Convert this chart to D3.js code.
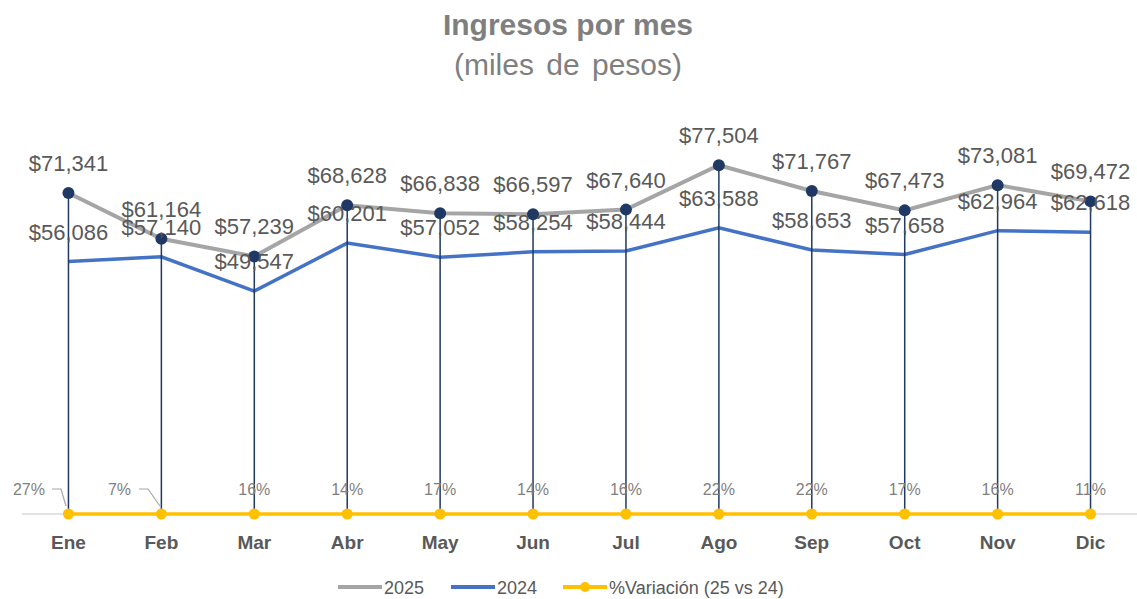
<!doctype html>
<html lang="es">
<head>
<meta charset="utf-8">
<title>Ingresos por mes</title>
<script src="https://cdn.jsdelivr.net/npm/d3@7"></script>
<style>
  body { margin: 0; background: #fff; }
  svg { font-family: "Liberation Sans", Arial, sans-serif; }
</style>
</head>
<body>
<svg></svg>
<script>
  var months = ["Ene", "Feb", "Mar", "Abr", "May", "Jun", "Jul", "Ago", "Sep", "Oct", "Nov", "Dic"];
  var ventas2025 = [71341, 61164, 57239, 68628, 66838, 66597, 67640, 77504, 71767, 67473, 73081, 69472];
  var ventas2024 = [56086, 57140, 49547, 60201, 57052, 58254, 58444, 63588, 58653, 57658, 62964, 62618];
  var variacion = [0.27, 0.07, 0.16, 0.14, 0.17, 0.14, 0.16, 0.22, 0.22, 0.17, 0.16, 0.11];

  var width = 1137, height = 599;
  var svg = d3.select("svg").attr("width", width).attr("height", height);

  var x = d3.scaleBand().domain(months).range([22, 1137]);
  var y = d3.scaleLinear().domain([0, 90000]).range([514, 109]);
  var cx = function (d, i) { return x(months[i]) + x.bandwidth() / 2; };

  // title
  svg.append("text").attr("x", 568).attr("y", 35).attr("text-anchor", "middle")
    .attr("font-size", 30).attr("font-weight", "bold").attr("fill", "#7f7f7f")
    .text("Ingresos por mes");
  svg.append("text").attr("x", 568).attr("y", 75).attr("text-anchor", "middle")
    .attr("font-size", 30).attr("fill", "#7f7f7f").attr("word-spacing", 4)
    .text("(miles de pesos)");

  // baseline
  svg.append("line").attr("x1", 22).attr("x2", 1137)
    .attr("y1", y(0)).attr("y2", y(0))
    .attr("stroke", "#d9d9d9").attr("stroke-width", 1.5);

  // x labels
  var xAxis = d3.axisBottom(x).tickSize(0).tickPadding(22);
  var gx = svg.append("g").attr("transform", "translate(0," + y(0) + ")").call(xAxis);
  gx.select(".domain").remove();
  gx.selectAll("text").attr("font-size", 19).attr("font-weight", "bold")
    .attr("fill", "#595959").attr("font-family", "Liberation Sans, Arial, sans-serif");

  var line = d3.line().x(cx).y(function (d) { return y(d); });

  svg.append("path").datum(ventas2024).attr("d", line)
    .attr("fill", "none").attr("stroke", "#4472c4").attr("stroke-width", 3.5);
  svg.append("path").datum(ventas2025).attr("d", line)
    .attr("fill", "none").attr("stroke", "#a5a5a5").attr("stroke-width", 4);

  // drop lines
  svg.append("g").selectAll("line").data(ventas2025).enter().append("line")
    .attr("x1", cx).attr("x2", cx)
    .attr("y1", function (d) { return y(d); }).attr("y2", y(0))
    .attr("stroke", "#1f3864").attr("stroke-width", 1.5);

  svg.append("g").selectAll("circle").data(ventas2025).enter().append("circle")
    .attr("cx", cx).attr("cy", function (d) { return y(d); }).attr("r", 6)
    .attr("fill", "#1f3864");

  // variation
  svg.append("path").datum(variacion).attr("d", line)
    .attr("fill", "none").attr("stroke", "#ffc000").attr("stroke-width", 3.5);
  svg.append("g").selectAll("circle").data(variacion).enter().append("circle")
    .attr("cx", cx).attr("cy", function (d) { return y(d); }).attr("r", 5.5)
    .attr("fill", "#ffc000");

  // leader lines for first two percent labels
  var leader = [[[52, 489], [61, 489], [66, 506]], [[139, 489], [148, 489], [160, 506]]];
  svg.append("g").selectAll("polyline").data(leader).enter().append("polyline")
    .attr("points", function (d) { return d.join(" "); })
    .attr("fill", "none").attr("stroke", "#a6a6a6").attr("stroke-width", 1.2);

  var fmt = d3.format("$,");
  var pct = d3.format(".0%");

  svg.append("g").selectAll("text").data(variacion).enter().append("text")
    .attr("x", function (d, i) { return i === 0 ? 45 : i === 1 ? 131 : cx(d, i); })
    .attr("y", 495)
    .attr("text-anchor", function (d, i) { return i < 2 ? "end" : "middle"; })
    .attr("font-size", 16).attr("fill", "#7f7f7f")
    .text(function (d) { return pct(d); });

  function labels(data) {
    svg.append("g").selectAll("text").data(data).enter().append("text")
      .attr("x", cx).attr("y", function (d) { return y(d) - 22; })
      .attr("text-anchor", "middle").attr("font-size", 22).attr("fill", "#595959")
      .text(function (d) { return fmt(d); });
  }
  labels(ventas2024);
  labels(ventas2025);

  // legend
  var legend = [
    { name: "2025", color: "#a5a5a5", x: 338, dot: false },
    { name: "2024", color: "#4472c4", x: 451, dot: false },
    { name: "%Variación (25 vs 24)", color: "#ffc000", x: 563, dot: true }
  ];
  var lg = svg.append("g").selectAll("g").data(legend).enter().append("g")
    .attr("transform", function (d) { return "translate(" + d.x + ",587)"; });
  lg.append("line").attr("x1", 0).attr("x2", 44).attr("y1", 0).attr("y2", 0)
    .attr("stroke", function (d) { return d.color; }).attr("stroke-width", 4);
  lg.filter(function (d) { return d.dot; }).append("circle")
    .attr("cx", 22).attr("cy", 0).attr("r", 5).attr("fill", function (d) { return d.color; });
  lg.append("text").attr("x", 46).attr("y", 7).attr("font-size", 18).attr("fill", "#595959")
    .text(function (d) { return d.name; });
</script>
</body>
</html>
